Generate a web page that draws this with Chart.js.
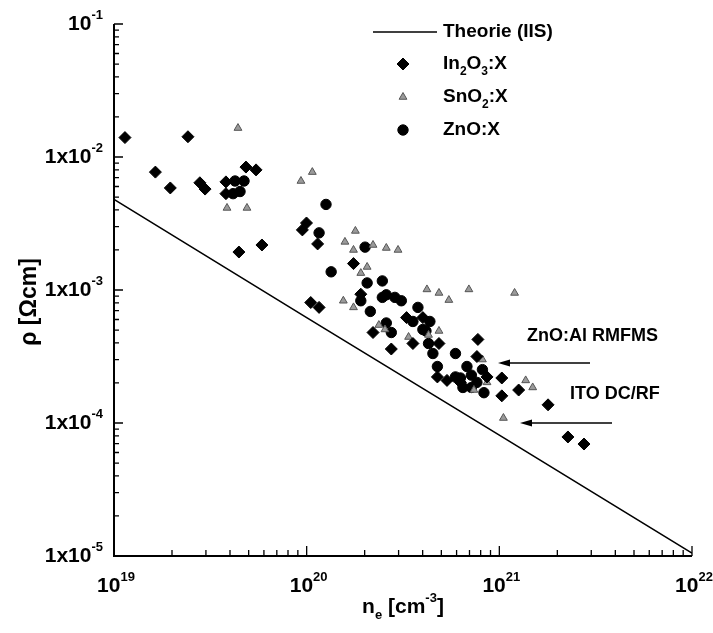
<!DOCTYPE html>
<html>
<head>
<meta charset="utf-8">
<script src="https://cdn.jsdelivr.net/npm/chart.js@4.4.1/dist/chart.umd.min.js"></script>
<style>
  html, body { margin: 0; padding: 0; background: #fff; }
  #wrap { width: 713px; height: 633px; }
</style>
</head>
<body>
<div id="wrap"><canvas id="rhoChart" width="713" height="633"></canvas></div>
<script>
/* Data Value */
const nTheory = [1e19, 1e20, 1e21, 1e22];
const rhoTheory = [4.8e-3, 6.2e-4, 8.1e-5, 1.05e-5];

const inN = [1.14e19, 2.42e19, 1.64e19, 1.96e19, 2.79e19, 2.97e19, 3.81e19, 3.81e19, 4.84e19, 5.46e19,
  4.45e19, 5.86e19, 9.5e19, 9.98e19, 1.14e20, 1.75e20, 1.91e20, 1.05e20, 1.16e20, 2.21e20,
  2.75e20, 3.3e20, 4.01e20, 3.56e20, 4.86e20, 7.74e20, 7.65e20, 4.77e20, 5.35e20, 6.28e20,
  8.63e20, 1.03e21, 1.03e21, 1.26e21, 1.79e21, 2.27e21, 2.75e21];
const inRho = [1.4e-2, 1.42e-2, 7.7e-3, 5.85e-3, 6.4e-3, 5.74e-3, 6.5e-3, 5.3e-3, 8.4e-3, 8.0e-3,
  1.93e-3, 2.18e-3, 2.83e-3, 3.19e-3, 2.22e-3, 1.58e-3, 9.3e-4, 8.05e-4, 7.4e-4, 4.79e-4,
  3.6e-4, 6.2e-4, 6.2e-4, 3.96e-4, 3.96e-4, 4.25e-4, 3.16e-4, 2.22e-4, 2.09e-4, 2.02e-4,
  2.22e-4, 2.18e-4, 1.6e-4, 1.77e-4, 1.37e-4, 7.85e-5, 6.95e-5];

const snN = [4.4e19, 3.86e19, 4.9e19, 9.34e19, 1.07e20, 1.79e20, 1.58e20, 1.75e20, 2.21e20, 2.59e20,
  2.98e20, 2.06e20, 1.91e20, 1.55e20, 1.75e20, 4.21e20, 4.86e20, 5.47e20, 6.95e20, 1.2e21,
  2.37e20, 2.55e20, 3.38e20, 4.29e20, 4.86e20, 8.17e20, 8.63e20, 7.38e20, 1.37e21, 1.49e21, 1.05e21];
const snRho = [1.65e-2, 4.14e-3, 4.14e-3, 6.6e-3, 7.7e-3, 2.78e-3, 2.3e-3, 2.0e-3, 2.18e-3, 2.07e-3,
  2.0e-3, 1.49e-3, 1.34e-3, 8.3e-4, 7.4e-4, 1.01e-3, 9.5e-4, 8.4e-4, 1.01e-3, 9.5e-4,
  5.45e-4, 5.05e-4, 4.43e-4, 4.59e-4, 4.92e-4, 3.0e-4, 2.02e-4, 1.77e-4, 2.09e-4, 1.85e-4, 1.09e-4];

const znN = [4.25e19, 4.73e19, 4.15e19, 4.51e19, 1.26e20, 1.16e20, 1.34e20, 2.01e20, 2.06e20, 2.47e20,
  1.91e20, 2.47e20, 2.59e20, 2.87e20, 3.1e20, 2.14e20, 2.59e20, 2.75e20, 3.78e20, 3.56e20,
  4.36e20, 4.01e20, 4.16e20, 4.29e20, 4.52e20, 5.92e20, 4.77e20, 6.79e20, 8.17e20, 5.92e20,
  6.28e20, 7.16e20, 7.65e20, 6.47e20, 7.16e20, 8.32e20];
const znRho = [6.6e-3, 6.6e-3, 5.3e-3, 5.5e-3, 4.4e-3, 2.69e-3, 1.37e-3, 2.1e-3, 1.13e-3, 1.17e-3,
  8.3e-4, 8.8e-4, 9.2e-4, 8.8e-4, 8.3e-4, 6.9e-4, 5.65e-4, 4.79e-4, 7.4e-4, 5.8e-4,
  5.8e-4, 5.05e-4, 4.92e-4, 3.96e-4, 3.33e-4, 3.33e-4, 2.66e-4, 2.66e-4, 2.52e-4, 2.22e-4,
  2.18e-4, 2.29e-4, 2.02e-4, 1.85e-4, 1.85e-4, 1.69e-4];

const xDecades = [19, 20, 21, 22];
const yDecades = [-5, -4, -3, -2, -1];

const toPoints = (xs, ys) => xs.map((x, i) => ({ x: x, y: ys[i] }));

const FONT = '"Liberation Sans", Arial, sans-serif';

/* text parts: [text, 0 normal | -1 superscript | 1 subscript] */
function partsWidth(ctx, parts, size) {
  let w = 0;
  for (const [t, s] of parts) {
    ctx.font = `bold ${s ? Math.round(size * 0.62) : size}px ${FONT}`;
    w += ctx.measureText(t).width;
  }
  return w;
}
function drawParts(ctx, parts, x, y, size) {
  let cx = x;
  for (const [t, s] of parts) {
    ctx.font = `bold ${s ? Math.round(size * 0.62) : size}px ${FONT}`;
    const dy = s === -1 ? -size * 0.42 : s === 1 ? size * 0.42 : 0;
    ctx.fillText(t, cx, y + dy);
    cx += ctx.measureText(t).width;
  }
}

const axesPlugin = {
  id: "axesPlugin",
  afterDraw(chart) {
    const { ctx, chartArea: a, scales: { x, y } } = chart;
    ctx.save();
    ctx.strokeStyle = "#000";
    ctx.fillStyle = "#000";
    ctx.lineWidth = 2;
    ctx.beginPath();
    ctx.moveTo(a.left, a.top);
    ctx.lineTo(a.left, a.bottom);
    ctx.lineTo(a.right, a.bottom);
    ctx.stroke();

    // inward ticks
    ctx.lineWidth = 1.3;
    ctx.beginPath();
    yDecades.forEach((e) => {
      const py = y.getPixelForValue(Math.pow(10, e));
      ctx.moveTo(a.left, py);
      ctx.lineTo(a.left + 9, py);
      if (e < -1) {
        for (let k = 2; k < 10; k++) {
          const q = y.getPixelForValue(k * Math.pow(10, e));
          ctx.moveTo(a.left, q);
          ctx.lineTo(a.left + 5, q);
        }
      }
    });
    xDecades.forEach((e) => {
      const px = x.getPixelForValue(Math.pow(10, e));
      ctx.moveTo(px, a.bottom);
      ctx.lineTo(px, a.bottom - 10);
      if (e < 22) {
        for (let k = 2; k < 10; k++) {
          const q = x.getPixelForValue(k * Math.pow(10, e));
          ctx.moveTo(q, a.bottom);
          ctx.lineTo(q, a.bottom - 6);
        }
      }
    });
    ctx.stroke();

    // tick labels
    ctx.textBaseline = "middle";
    ctx.textAlign = "left";
    yDecades.forEach((e) => {
      const py = y.getPixelForValue(Math.pow(10, e));
      const parts = e === -1 ? [["10", 0], [String(e), -1]] : [["1x10", 0], [String(e), -1]];
      const w = partsWidth(ctx, parts, 21);
      drawParts(ctx, parts, 103 - w, py, 21);
    });
    xDecades.forEach((e) => {
      const px = x.getPixelForValue(Math.pow(10, e));
      const parts = [["10", 0], [String(e), -1]];
      const w = partsWidth(ctx, parts, 21);
      drawParts(ctx, parts, px - w / 2 + 2, 586, 21);
    });

    // axis titles
    const tParts = [["n", 0], ["e", 1], [" [cm", 0], ["-3", -1], ["]", 0]];
    drawParts(ctx, tParts, a.left + (a.right - a.left) / 2 - partsWidth(ctx, tParts, 21) / 2, 607, 21);
    ctx.save();
    ctx.translate(30, (a.top + a.bottom) / 2 + 12);
    ctx.rotate(-Math.PI / 2);
    ctx.textAlign = "center";
    ctx.font = `bold 23px ${FONT}`;
    ctx.fillText("\u03C1 [\u03A9cm]", 0, 0);
    ctx.restore();

    // legend
    const lx = 443;
    ctx.lineWidth = 1.5;
    ctx.beginPath();
    ctx.moveTo(373, 32);
    ctx.lineTo(437, 32);
    ctx.stroke();
    chart.data.datasets.slice(1).forEach((ds, i) => {
      ctx.fillStyle = ds.backgroundColor;
      ctx.strokeStyle = ds.borderColor;
      ctx.lineWidth = ds.borderWidth;
      Chart.helpers.drawPoint(ctx, {
        pointStyle: ds.pointStyle, radius: ds.pointRadius, borderWidth: ds.borderWidth, rotation: 0,
      }, 403, 64 + i * 33);
    });
    ctx.fillStyle = "#000";
    drawParts(ctx, [["Theorie (IIS)", 0]], lx, 32, 19);
    drawParts(ctx, [["In", 0], ["2", 1], ["O", 0], ["3", 1], [":X", 0]], lx, 64, 19);
    drawParts(ctx, [["SnO", 0], ["2", 1], [":X", 0]], lx, 97, 19);
    drawParts(ctx, [["ZnO:X", 0]], lx, 130, 19);

    // annotations with arrows
    ctx.font = `bold 18px ${FONT}`;
    ctx.fillText("ZnO:Al RMFMS", 527, 336);
    ctx.fillText("ITO DC/RF", 570, 394);
    const arrow = (x1, x2, yy) => {
      ctx.lineWidth = 1.5;
      ctx.beginPath();
      ctx.moveTo(x2, yy);
      ctx.lineTo(x1 + 8, yy);
      ctx.stroke();
      ctx.beginPath();
      ctx.moveTo(x1, yy);
      ctx.lineTo(x1 + 12, yy - 3.5);
      ctx.lineTo(x1 + 12, yy + 3.5);
      ctx.closePath();
      ctx.fill();
    };
    arrow(498, 590, 363);
    arrow(520, 612, 423);
    ctx.restore();
  },
};

/* Chart */
const rhoChart = new Chart(document.getElementById("rhoChart"), {
  type: "scatter",
  data: {
    datasets: [
      {
        label: "Theorie (IIS)",
        data: toPoints(nTheory, rhoTheory),
        showLine: true,
        borderColor: "#000",
        borderWidth: 1.6,
        pointRadius: 0,
        fill: false,
      },
      {
        label: "In2O3:X",
        data: toPoints(inN, inRho),
        pointStyle: "rectRot",
        pointRadius: 6,
        backgroundColor: "#000",
        borderColor: "#000",
        borderWidth: 1,
      },
      {
        label: "SnO2:X",
        data: toPoints(snN, snRho),
        pointStyle: "triangle",
        pointRadius: 4.5,
        backgroundColor: "#9a9a9a",
        borderColor: "#555",
        borderWidth: 1,
      },
      {
        label: "ZnO:X",
        data: toPoints(znN, znRho),
        pointStyle: "circle",
        pointRadius: 5.2,
        backgroundColor: "#000",
        borderColor: "#000",
        borderWidth: 1,
      },
    ],
  },
  options: {
    responsive: false,
    animation: false,
    layout: { padding: { left: 114, right: 21, top: 24, bottom: 77 } },
    scales: {
      x: { type: "logarithmic", min: 1e19, max: 1e22, display: false },
      y: { type: "logarithmic", min: 1e-5, max: 1e-1, display: false },
    },
    plugins: {
      legend: { display: false },
      tooltip: { enabled: false },
    },
  },
  plugins: [axesPlugin],
});
</script>
</body>
</html>
